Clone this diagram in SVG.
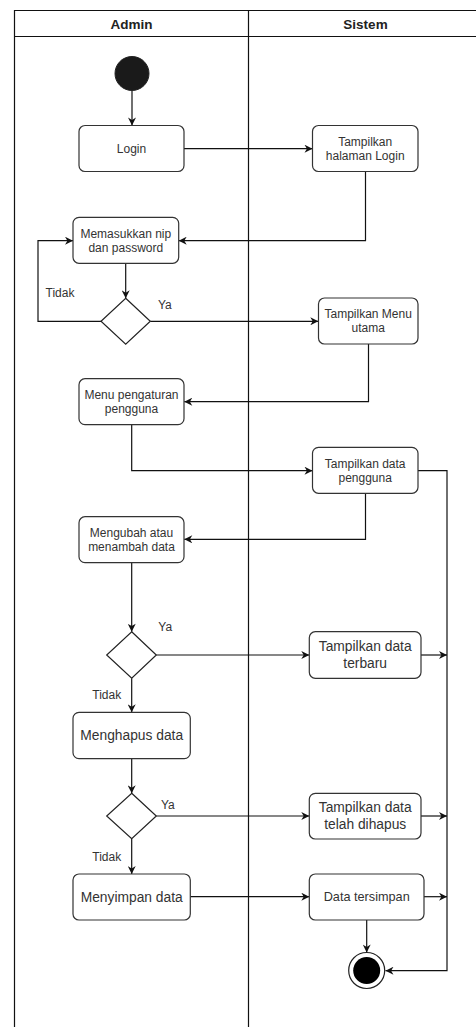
<svg xmlns="http://www.w3.org/2000/svg" width="476" height="1027" viewBox="0 0 476 1027">
  <style>
    .lane { fill: none; stroke: #111; stroke-width: 1.2; }
    .act { fill: #fff; stroke: #333; stroke-width: 1.2; }
    .dec { fill: #fff; stroke: #222; stroke-width: 1.2; }
    .edge { fill: none; stroke: #111; stroke-width: 1.2; marker-end: url(#arrow); }
    .edge-plain { fill: none; stroke: #111; stroke-width: 1.2; }
    text { font-family: "Liberation Sans", Arial, sans-serif; fill: #333; text-anchor: middle; }
    .head { font-size: 13.5px; font-weight: bold; fill: #222; }
    .sm { font-size: 12px; }
    .md { font-size: 12.7px; }
    .lg { font-size: 13.8px; }
    .lbl { font-size: 12px; text-anchor: start; }
  </style>
  <defs>
    <marker id="arrow" viewBox="0 0 10 10" refX="10" refY="5" markerWidth="9" markerHeight="8" markerUnits="userSpaceOnUse" orient="auto">
      <path d="M0,0 L10,5 L0,10 L3,5 z" fill="#111"/>
    </marker>
  </defs>

  <rect width="476" height="1027" fill="#fff"/>

  <!-- swimlanes -->
  <g id="lanes">
    <path class="lane" d="M14.5,1027 V10.5 H480"/>
    <path class="lane" d="M14.5,36.5 H480"/>
    <path class="lane" d="M248.5,10.5 V1027"/>
    <text class="head" x="131.5" y="29">Admin</text>
    <text class="head" x="365.5" y="29">Sistem</text>
  </g>

  <!-- connectors -->
  <g id="connectors">
    <path class="edge" d="M132,90.5 V125.5"/>
    <path class="edge" d="M184,148.7 H312.5"/>
    <path class="edge" d="M365.5,171.5 V240.7 H178.7"/>
    <path class="edge" d="M125.7,263.3 V298.3"/>
    <path class="edge" d="M101,321.3 H38 V240.7 H73"/>
    <path class="edge" d="M150.3,321.3 H318.3"/>
    <path class="edge" d="M368.5,344 V401.7 H184.3"/>
    <path class="edge" d="M131.7,425 V470.7 H312.5"/>
    <path class="edge" d="M365.5,493.3 V539.3 H184.3"/>
    <path class="edge" d="M418,470.7 H447 V970.7 H385.5"/>
    <path class="edge" d="M131.7,562.7 V631.7"/>
    <path class="edge" d="M156.3,655 H309.3"/>
    <path class="edge" d="M421,655 H447"/>
    <path class="edge" d="M131.7,678.3 V712.3"/>
    <path class="edge" d="M131.7,758.7 V793.3"/>
    <path class="edge" d="M156.3,816 H309.3"/>
    <path class="edge" d="M421,816 H447"/>
    <path class="edge" d="M131.7,838.7 V874"/>
    <path class="edge" d="M190.3,896.7 H309.3"/>
    <path class="edge" d="M424,896.7 H447"/>
    <path class="edge" d="M366.7,920 V952.5"/>
    <text class="lbl" x="45.5" y="297">Tidak</text>
    <text class="lbl" x="158" y="309">Ya</text>
    <text class="lbl" x="158.3" y="631">Ya</text>
    <text class="lbl" x="92.3" y="699">Tidak</text>
    <text class="lbl" x="161" y="809">Ya</text>
    <text class="lbl" x="92.3" y="860.5">Tidak</text>
  </g>

  <g id="start">
    <circle cx="132" cy="73.5" r="17" fill="#1a1a1a" stroke="#222" stroke-width="1"/>
  </g>

  <g id="login">
    <rect class="act" x="79" y="125.5" width="105" height="46" rx="6"/>
    <text class="sm" x="131.5" y="152.7">Login</text>
  </g>

  <g id="tampil-login">
    <rect class="act" x="312.5" y="125.5" width="105.5" height="46" rx="6"/>
    <text class="sm" x="365.2" y="145.7">Tampilkan</text>
    <text class="sm" x="365.2" y="159.7">halaman Login</text>
  </g>

  <g id="input-nip">
    <rect class="act" x="73" y="217.3" width="105.7" height="46" rx="6"/>
    <text class="sm" x="125.8" y="237.5">Memasukkan nip</text>
    <text class="sm" x="125.8" y="251.5">dan password</text>
  </g>

  <g id="cek-login">
    <polygon class="dec" points="125.7,298.3 150.3,321.3 125.7,344.3 101,321.3"/>
  </g>

  <g id="menu-utama">
    <rect class="act" x="318.5" y="298" width="99.5" height="46" rx="6"/>
    <text class="sm" x="368.2" y="318.2">Tampilkan Menu</text>
    <text class="sm" x="368.2" y="332.2">utama</text>
  </g>

  <g id="menu-pengaturan">
    <rect class="act" x="79" y="378.7" width="105" height="46" rx="6"/>
    <text class="sm" x="131.5" y="399">Menu pengaturan</text>
    <text class="sm" x="131.5" y="413">pengguna</text>
  </g>

  <g id="data-pengguna">
    <rect class="act" x="312.5" y="447.3" width="105.5" height="46" rx="6"/>
    <text class="sm" x="365.2" y="467.5">Tampilkan data</text>
    <text class="sm" x="365.2" y="481.5">pengguna</text>
  </g>

  <g id="ubah-data">
    <rect class="act" x="79" y="516.7" width="105" height="46" rx="6"/>
    <text class="sm" x="131.5" y="536.9">Mengubah atau</text>
    <text class="sm" x="131.5" y="550.9">menambah data</text>
  </g>

  <g id="cek-ubah">
    <polygon class="dec" points="131.7,631.7 156.3,655 131.7,678.3 106.7,655"/>
  </g>

  <g id="data-terbaru">
    <rect class="act" x="309.3" y="631.7" width="111.7" height="46.6" rx="6"/>
    <text class="lg" x="365.2" y="651.4">Tampilkan data</text>
    <text class="lg" x="365.2" y="668.4">terbaru</text>
  </g>

  <g id="hapus-data">
    <rect class="act" x="73" y="712.3" width="117.3" height="46.4" rx="6"/>
    <text class="lg" x="131.7" y="740.4">Menghapus data</text>
  </g>

  <g id="cek-hapus">
    <polygon class="dec" points="131.7,793.3 156.3,816 131.7,838.7 106.7,816"/>
  </g>

  <g id="data-dihapus">
    <rect class="act" x="309.3" y="793.3" width="111.7" height="45.7" rx="6"/>
    <text class="lg" x="365.2" y="812">Tampilkan data</text>
    <text class="lg" x="365.2" y="829">telah dihapus</text>
  </g>

  <g id="simpan-data">
    <rect class="act" x="73" y="874" width="117.3" height="46" rx="6"/>
    <text class="lg" x="131.7" y="901.9">Menyimpan data</text>
  </g>

  <g id="data-tersimpan">
    <rect class="act" x="309.3" y="874" width="114.7" height="46" rx="6"/>
    <text class="md" x="366.7" y="901.4">Data tersimpan</text>
  </g>

  <g id="end">
    <circle cx="366.7" cy="970.5" r="18" fill="#fff" stroke="#222" stroke-width="1.2"/>
    <circle cx="366.7" cy="970.5" r="13.5" fill="#000"/>
  </g>
</svg>
